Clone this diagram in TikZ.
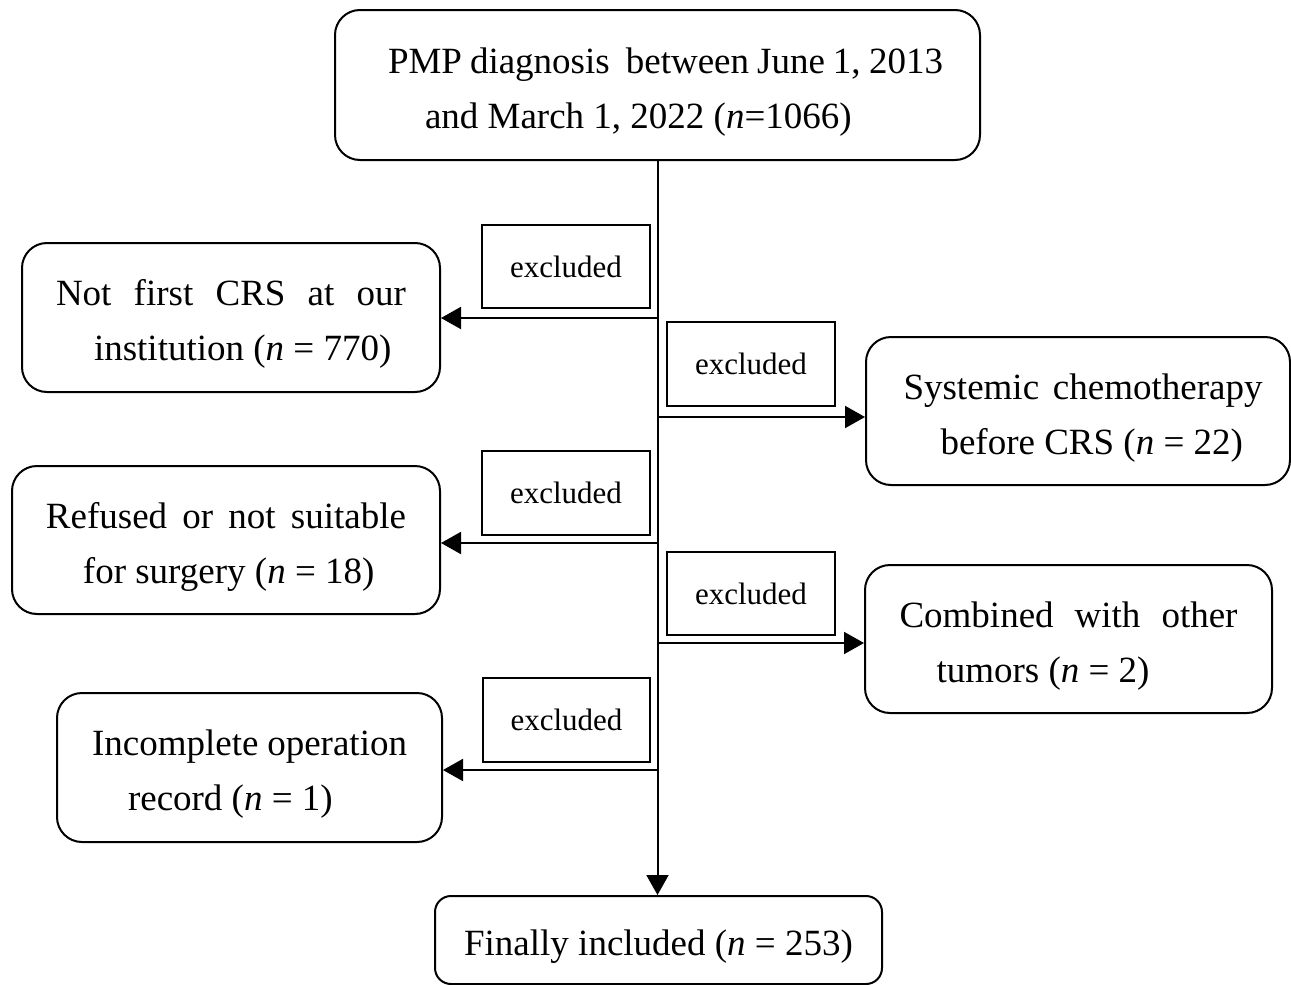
\documentclass[tikz,border=0pt]{standalone}
\usepackage{fontspec}
\setmainfont{Liberation Serif}
\usetikzlibrary{arrows.meta}
\newcommand\fmainx{\fontsize{18.5}{27.5}\selectfont}
\newcommand\fexclx{\fontsize{15.5}{18}\selectfont}
\newcommand\upstrut{\rule{0pt}{19.5pt}}
\tikzset{
  rbox/.style={draw, line width=1pt, rounded corners=12.5pt, inner sep=0pt, align=left, font=\fmainx},
  exbox/.style={draw, line width=1.4pt, inner sep=0pt, font=\fexclx},
  arr/.style={line width=1pt, -{Triangle[length=10pt,width=11pt]}},
}
\begin{document}
\begin{tikzpicture}[x=0.5pt,y=-0.5pt]
\useasboundingbox (0,0) rectangle (1291,985);
% main boxes
\node[rbox, minimum width=322.5pt, minimum height=75pt] (top) at (657.5,85)
  {\upstrut\hspace*{8pt}\makebox[277.5pt][s]{PMP diagnosis\ \ between June 1, 2013}\\\hspace*{26.5pt}and March 1, 2022 (\textit{n}=1066)};
\node[rbox, minimum width=209pt, minimum height=74.5pt] (b1) at (231,317.5)
  {\upstrut\makebox[175pt][s]{Not first CRS at our}\\\hspace*{19pt}institution (\textit{n} = 770)};
\node[rbox, minimum width=212pt, minimum height=74pt] (b2) at (1078,411)
  {\upstrut\hspace*{5pt}\makebox[179.5pt][s]{Systemic chemotherapy}\\\hspace*{23.5pt}before CRS (\textit{n} = 22)};
\node[rbox, minimum width=214pt, minimum height=74pt] (b3) at (226,540)
  {\upstrut\makebox[180pt][s]{Refused or not suitable}\\\hspace*{18.5pt}for surgery (\textit{n} = 18)};
\node[rbox, minimum width=203.5pt, minimum height=74pt] (b4) at (1068.5,639)
  {\upstrut\makebox[169pt][s]{Combined with other}\\\hspace*{18.5pt}tumors (\textit{n} = 2)};
\node[rbox, minimum width=192.5pt, minimum height=74.5pt] (b5) at (249.5,767.5)
  {\upstrut\makebox[157.5pt][s]{Incomplete operation}\\\hspace*{18pt}record (\textit{n} = 1)};
\node[rbox, rounded corners=8pt, minimum width=223.5pt, minimum height=44pt] (fin) at (658.5,940)
  {\upstrut Finally included (\textit{n} = 253)};
% excluded labels
\node[exbox, minimum width=84pt, minimum height=41.5pt] (e1) at (566,266.5) {excluded};
\node[exbox, minimum width=84pt, minimum height=42pt] (e2) at (751,364) {excluded};
\node[exbox, minimum width=84pt, minimum height=42pt] (e3) at (566,493) {excluded};
\node[exbox, minimum width=84pt, minimum height=41.5pt] (e4) at (751,593.5) {excluded};
\node[exbox, minimum width=83.5pt, minimum height=42pt] (e5) at (566.5,720) {excluded};
% junctions
\coordinate (j1) at (658,318);
\coordinate (j2) at (658,417);
\coordinate (j3) at (658,543);
\coordinate (j4) at (658,643);
\coordinate (j5) at (658,770);
% connectors
\draw[arr] (top.south) -- (top.south |- fin.north);
\draw[arr] (j1) -- (j1 -| b1.east);
\draw[arr] (j2) -- (j2 -| b2.west);
\draw[arr] (j3) -- (j3 -| b3.east);
\draw[arr] (j4) -- (j4 -| b4.west);
\draw[arr] (j5) -- (j5 -| b5.east);
\end{tikzpicture}
\end{document}
